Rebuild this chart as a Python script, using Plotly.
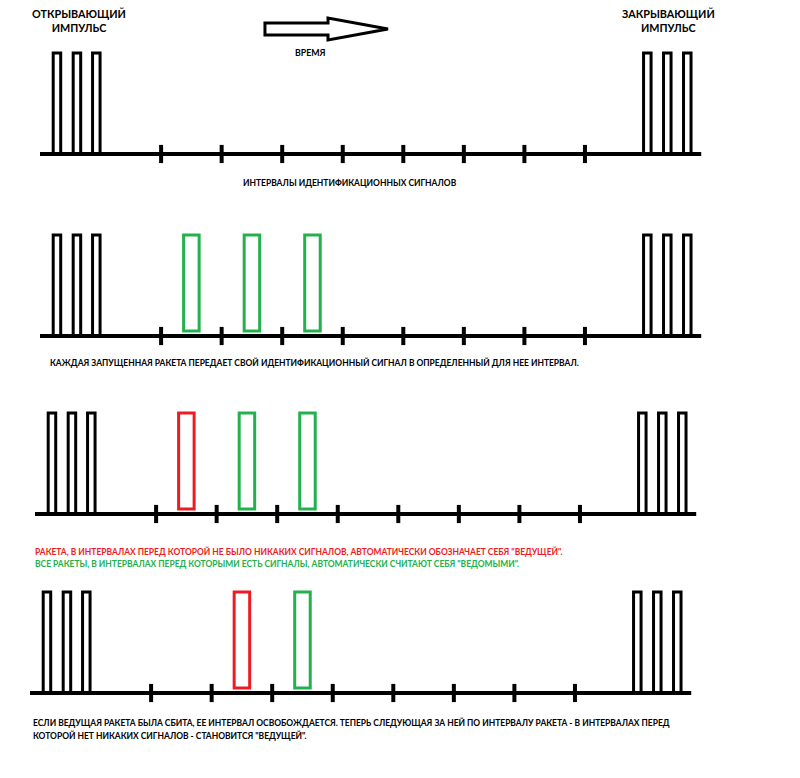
import plotly.graph_objects as go

# time measured in identification intervals, 0 = left end of each time line
tick_times = [2, 3, 4, 5, 6, 7, 8, 9]
open_pulses = [0.28, 0.61, 0.93]
close_pulses = [10.03, 10.36, 10.69]
line_end = 10.92

# centres of the rockets' identification signals, one list per panel
green_signals = [[], [2.5, 3.5, 4.5], [3.5, 4.5], [4.5]]
red_signals = [[], [], [2.5], [3.5]]

captions = [
    ["ИНТЕРВАЛЫ ИДЕНТИФИКАЦИОННЫХ СИГНАЛОВ"],
    ["КАЖДАЯ ЗАПУЩЕННАЯ РАКЕТА ПЕРЕДАЕТ СВОЙ ИДЕНТИФИКАЦИОННЫЙ СИГНАЛ В ОПРЕДЕЛЕННЫЙ ДЛЯ НЕЕ ИНТЕРВАЛ."],
    ["РАКЕТА, В ИНТЕРВАЛАХ ПЕРЕД КОТОРОЙ НЕ БЫЛО НИКАКИХ СИГНАЛОВ, АВТОМАТИЧЕСКИ ОБОЗНАЧАЕТ СЕБЯ \"ВЕДУЩЕЙ\".",
     "ВСЕ РАКЕТЫ, В ИНТЕРВАЛАХ ПЕРЕД КОТОРЫМИ ЕСТЬ СИГНАЛЫ, АВТОМАТИЧЕСКИ СЧИТАЮТ СЕБЯ \"ВЕДОМЫМИ\"."],
    ["ЕСЛИ ВЕДУЩАЯ РАКЕТА БЫЛА СБИТА, ЕЕ ИНТЕРВАЛ ОСВОБОЖДАЕТСЯ. ТЕПЕРЬ СЛЕДУЮЩАЯ ЗА НЕЙ ПО ИНТЕРВАЛУ РАКЕТА - В ИНТЕРВАЛАХ ПЕРЕД",
     "КОТОРОЙ НЕТ НИКАКИХ СИГНАЛОВ - СТАНОВИТСЯ \"ВЕДУЩЕЙ\"."],
]

# page layout (pixels)
W, H = 800, 778
unit_px = 60.55      # one interval
pulse_px = 101       # pulse height
panel_left = [40, 40, 35, 30]
panel_base = [154, 336, 514, 693]
caption_y = [[183], [362], [551, 564], [722, 735]]
caption_x = [241, 48, 33, 31]

GREEN = "#22b14c"
RED = "#ed1c24"
FONT = "Lato"

pulse_w = 0.124
signal_w = 0.256
tick_h = 0.09

fig = go.Figure()
layout = dict(
    width=W, height=H,
    margin=dict(l=0, r=0, t=0, b=0),
    paper_bgcolor="white", plot_bgcolor="white",
    showlegend=False,
)
shapes = []
annotations = []

for i in range(4):
    n = "" if i == 0 else str(i + 1)
    left, base = panel_left[i], panel_base[i]
    xa = dict(domain=[0, 1], range=[-left / unit_px, (W - left) / unit_px], visible=False, fixedrange=True)
    ya = dict(domain=[0, 1], range=[(base - H) / pulse_px, base / pulse_px], visible=False, fixedrange=True)
    if i > 0:
        xa.update(overlaying="x", anchor="y" + n)
        ya.update(overlaying="y", anchor="x" + n)
    layout["xaxis" + n] = xa
    layout["yaxis" + n] = ya
    xr, yr = "x" + n, "y" + n

    for c in open_pulses + close_pulses:
        shapes.append(dict(type="rect", xref=xr, yref=yr, x0=c - pulse_w / 2, x1=c + pulse_w / 2,
                           y0=0, y1=1, line=dict(color="black", width=3)))
    for sig, col in ((green_signals[i], GREEN), (red_signals[i], RED)):
        for c in sig:
            shapes.append(dict(type="rect", xref=xr, yref=yr, x0=c - signal_w / 2, x1=c + signal_w / 2,
                               y0=0.05, y1=1.0, line=dict(color=col, width=3)))
    shapes.append(dict(type="line", xref=xr, yref=yr, x0=0, x1=line_end, y0=0, y1=0,
                       line=dict(color="black", width=4)))
    for t in tick_times:
        shapes.append(dict(type="line", xref=xr, yref=yr, x0=t, x1=t, y0=-tick_h, y1=tick_h,
                           line=dict(color="black", width=4)))

    for j, txt in enumerate(captions[i]):
        col = "black"
        if i == 2:
            col = RED if j == 0 else GREEN
        annotations.append(dict(xref="paper", yref="paper", x=caption_x[i] / W, y=1 - caption_y[i][j] / H,
                                text="<b>" + txt + "</b>", showarrow=False, xanchor="left", yanchor="middle",
                                font=dict(family=FONT, size=8.45, color=col)))

# titles and the time arrow
for txt, cx in (("ОТКРЫВАЮЩИЙ<br>ИМПУЛЬС", 79), ("ЗАКРЫВАЮЩИЙ<br>ИМПУЛЬС", 668)):
    annotations.append(dict(xref="paper", yref="paper", x=cx / W, y=1 - 20 / H, text="<b>" + txt + "</b>",
                            showarrow=False, xanchor="center", yanchor="middle", align="center",
                            font=dict(family=FONT, size=10.8, color="black")))
annotations.append(dict(xref="paper", yref="paper", x=310 / W, y=1 - 53 / H, text="<b>ВРЕМЯ</b>",
                        showarrow=False, xanchor="center", yanchor="middle",
                        font=dict(family=FONT, size=8.8, color="black")))

arrow = [(265, 23), (328, 23), (328, 18), (388, 29), (328, 40), (328, 35), (265, 35)]
path = "M " + " L ".join(f"{x / W:.4f},{1 - y / H:.4f}" for x, y in arrow) + " Z"
shapes.append(dict(type="path", xref="paper", yref="paper", path=path,
                   line=dict(color="black", width=3), fillcolor="white"))

layout["shapes"] = shapes
layout["annotations"] = annotations
fig.update_layout(**layout)
# drop the default 8px page margin so the figure sits at the window origin
fig.write_html("out.html", config={"displayModeBar": False},
               post_script="document.body.style.margin='0';")
